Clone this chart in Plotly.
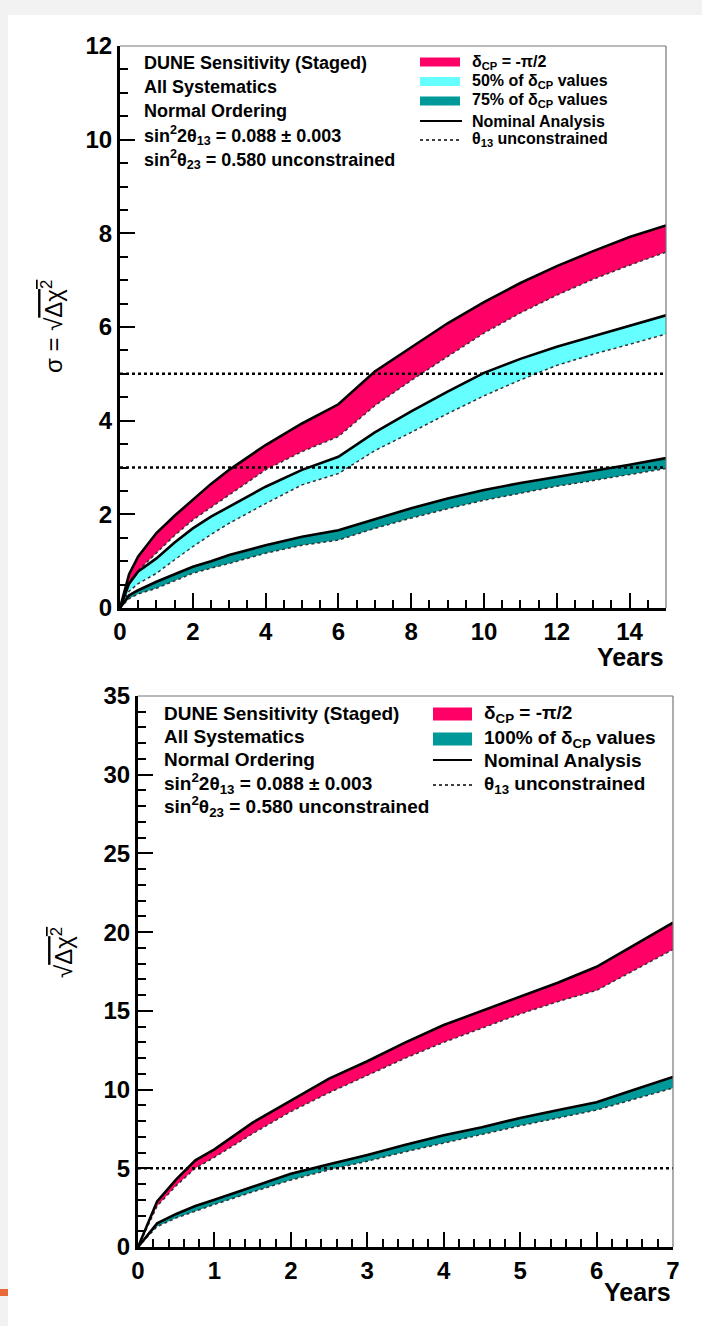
import plotly.graph_objects as go

W, H = 702, 1326

# ---------------- data: top panel (sigma vs years, 0-15) ----------------
top_years = [0, 0.25, 0.5, 1, 1.5, 2, 2.5, 3, 4, 5, 6, 7, 8, 9, 10, 11, 12, 13, 14, 15]
top_pink_nominal = [0, 0.72, 1.1, 1.6, 1.97, 2.3, 2.65, 2.95, 3.48, 3.94, 4.35, 5.05, 5.56, 6.08, 6.53, 6.94, 7.3, 7.62, 7.92, 8.17]
top_pink_th13 = [0, 0.55, 0.8, 1.17, 1.55, 1.88, 2.15, 2.41, 2.95, 3.34, 3.66, 4.32, 4.86, 5.37, 5.87, 6.3, 6.68, 7.02, 7.32, 7.6]
top_cyan_nominal = [0, 0.52, 0.78, 1.06, 1.4, 1.7, 1.95, 2.16, 2.59, 2.95, 3.23, 3.75, 4.2, 4.62, 5.02, 5.32, 5.58, 5.8, 6.03, 6.25]
top_cyan_th13 = [0, 0.36, 0.52, 0.74, 1.03, 1.31, 1.57, 1.81, 2.23, 2.63, 2.87, 3.36, 3.75, 4.15, 4.53, 4.87, 5.18, 5.42, 5.63, 5.85]
top_teal_nominal = [0, 0.27, 0.38, 0.56, 0.72, 0.88, 1.0, 1.13, 1.34, 1.52, 1.66, 1.9, 2.13, 2.34, 2.52, 2.67, 2.8, 2.92, 3.06, 3.2]
top_teal_th13 = [0, 0.2, 0.3, 0.42, 0.58, 0.74, 0.85, 0.95, 1.17, 1.34, 1.45, 1.7, 1.92, 2.12, 2.3, 2.45, 2.6, 2.72, 2.85, 2.98]
top_thresholds = [3, 5]
top_xticks = [0, 2, 4, 6, 8, 10, 12, 14]
top_yticks = [0, 2, 4, 6, 8, 10, 12]

# ---------------- data: bottom panel (sqrt dchi2 vs years, 0-7) ----------------
bot_years = [0, 0.25, 0.5, 0.75, 1, 1.5, 2, 2.5, 3, 3.5, 4, 4.5, 5, 5.5, 6, 6.5, 7]
bot_pink_nominal = [0, 2.9, 4.3, 5.5, 6.2, 7.9, 9.3, 10.7, 11.8, 13.0, 14.1, 15.0, 15.9, 16.8, 17.8, 19.2, 20.6]
bot_pink_th13 = [0, 2.6, 3.9, 5.0, 5.7, 7.2, 8.6, 9.8, 10.9, 12.0, 13.0, 13.9, 14.8, 15.6, 16.3, 17.6, 18.9]
bot_teal_nominal = [0, 1.5, 2.1, 2.6, 3.0, 3.85, 4.65, 5.25, 5.85, 6.5, 7.1, 7.6, 8.2, 8.7, 9.2, 10.0, 10.8]
bot_teal_th13 = [0, 1.3, 1.85, 2.3, 2.7, 3.5, 4.25, 4.9, 5.45, 6.05, 6.6, 7.15, 7.7, 8.2, 8.7, 9.4, 10.1]
bot_thresholds = [5]
bot_xticks = [0, 1, 2, 3, 4, 5, 6, 7]
bot_yticks = [0, 5, 10, 15, 20, 25, 30, 35]

PINK = "#ff0066"
CYAN = "#66ffff"
TEAL = "#009999"
FONT = "Liberation Sans, Arial, Helvetica, sans-serif"


def px(x):
    return x / W


def py(y):
    return 1 - y / H


fig = go.Figure()


def add_band(x, nominal, th13, color, xa, ya):
    fig.add_trace(go.Scatter(x=x, y=th13, mode="lines", line=dict(width=0, color=color),
                             xaxis=xa, yaxis=ya, showlegend=False, hoverinfo="skip"))
    fig.add_trace(go.Scatter(x=x, y=nominal, mode="lines", fill="tonexty", fillcolor=color,
                             line=dict(width=0, color=color),
                             xaxis=xa, yaxis=ya, showlegend=False, hoverinfo="skip"))


def add_edges(x, nominal, th13, xa, ya):
    fig.add_trace(go.Scatter(x=x, y=th13, mode="lines", line=dict(width=1.5, color="#333333", dash="dot"),
                             xaxis=xa, yaxis=ya, showlegend=False, hoverinfo="skip"))
    fig.add_trace(go.Scatter(x=x, y=nominal, mode="lines", line=dict(width=2.6, color="black"),
                             xaxis=xa, yaxis=ya, showlegend=False, hoverinfo="skip"))


add_band(top_years, top_pink_nominal, top_pink_th13, PINK, "x", "y")
add_band(top_years, top_cyan_nominal, top_cyan_th13, CYAN, "x", "y")
add_band(top_years, top_teal_nominal, top_teal_th13, TEAL, "x", "y")
add_edges(top_years, top_pink_nominal, top_pink_th13, "x", "y")
add_edges(top_years, top_cyan_nominal, top_cyan_th13, "x", "y")
add_edges(top_years, top_teal_nominal, top_teal_th13, "x", "y")

add_band(bot_years, bot_pink_nominal, bot_pink_th13, PINK, "x2", "y2")
add_band(bot_years, bot_teal_nominal, bot_teal_th13, TEAL, "x2", "y2")
add_edges(bot_years, bot_pink_nominal, bot_pink_th13, "x2", "y2")
add_edges(bot_years, bot_teal_nominal, bot_teal_th13, "x2", "y2")

tickfont = dict(family=FONT, size=24, color="black", weight="bold")


def axis(domain, rng, tickvals, minor_dtick, anchor):
    return dict(domain=domain, range=rng, anchor=anchor, tickvals=tickvals, automargin=False,
                ticks="inside", ticklen=15, tickwidth=2, tickcolor="black",
                minor=dict(dtick=minor_dtick, tick0=0, ticks="inside", ticklen=8, tickwidth=2, tickcolor="black"),
                showline=True, linecolor="black", linewidth=3,
                showgrid=False, zeroline=False, tickfont=tickfont, fixedrange=True)


layout = dict(
    width=W, height=H, margin=dict(l=0, r=0, t=0, b=0, pad=0), autosize=False,
    paper_bgcolor="#f2f2f2", plot_bgcolor="white", showlegend=False,
    xaxis=axis([px(120), px(666)], [0, 15], top_xticks, 0.5, "y"),
    yaxis=axis([py(608), py(46)], [0, 12], top_yticks, 0.5, "x"),
    xaxis2=axis([px(138), px(673)], [0, 7], bot_xticks, 0.2, "y2"),
    yaxis2=axis([py(1247), py(696)], [0, 35], bot_yticks, 1, "x2"),
)
fig.update_layout(**layout)

shapes = []
# page background (white sheet with light gray edges)
shapes.append(dict(type="rect", xref="paper", yref="paper", x0=px(8), x1=1.01, y0=-0.01, y1=py(15),
                   fillcolor="white", line=dict(width=0), layer="below"))
shapes.append(dict(type="rect", xref="paper", yref="paper", x0=0, x1=px(8), y0=py(1296), y1=py(1289),
                   fillcolor="#e8693a", line=dict(width=0), layer="below"))
# significance threshold lines
for t in top_thresholds:
    shapes.append(dict(type="line", xref="x domain", yref="y", x0=0, x1=1, y0=t, y1=t,
                       line=dict(color="black", width=2.5, dash="dot"), layer="above"))
for t in bot_thresholds:
    shapes.append(dict(type="line", xref="x2 domain", yref="y2", x0=0, x1=1, y0=t, y1=t,
                       line=dict(color="black", width=2.5, dash="dot"), layer="above"))
# thin frame on top and right
for xa, ya in (("x", "y"), ("x2", "y2")):
    shapes.append(dict(type="line", xref=f"{xa} domain", yref=f"{ya} domain", x0=0, x1=1, y0=1, y1=1,
                       line=dict(color="#777777", width=1.2)))
    shapes.append(dict(type="line", xref=f"{xa} domain", yref=f"{ya} domain", x0=1, x1=1, y0=0, y1=1,
                       line=dict(color="#777777", width=1.2)))

annotations = []


def text(x, y, s, size, anchor="left", bold=True, angle=0):
    annotations.append(dict(xref="paper", yref="paper", x=px(x), y=py(y), text=s, showarrow=False,
                            xanchor=anchor, yanchor="middle", textangle=angle,
                            font=dict(family=FONT, size=size, color="black",
                                      weight="bold" if bold else "normal")))


info_lines = [
    "DUNE Sensitivity (Staged)",
    "All Systematics",
    "Normal Ordering",
    "sin<sup>2</sup>2θ<sub>13</sub> = 0.088 ± 0.003",
    "sin<sup>2</sup>θ<sub>23</sub> = 0.580 unconstrained",
]
for i, s in enumerate(info_lines):
    text(142, 63 + i * 24.1, s, 18)
for i, s in enumerate(info_lines):
    text(162, 713 + i * 23.4, s, 19)

# top legend
top_leg = [("box", PINK, "δ<sub>CP</sub> = -π/2"),
           ("box", CYAN, "50% of δ<sub>CP</sub> values"),
           ("box", TEAL, "75% of δ<sub>CP</sub> values"),
           ("solid", None, "Nominal Analysis"),
           ("dot", None, "θ<sub>13</sub> unconstrained")]
top_rows = [62, 81.5, 101, 121, 140]
for (kind, col, lab), yy in zip(top_leg, top_rows):
    if kind == "box":
        shapes.append(dict(type="rect", xref="paper", yref="paper", x0=px(420), x1=px(460),
                           y0=py(yy + 4.5), y1=py(yy - 4.5), fillcolor=col, line=dict(width=0)))
    else:
        shapes.append(dict(type="line", xref="paper", yref="paper", x0=px(420), x1=px(462),
                           y0=py(yy), y1=py(yy),
                           line=dict(color="black", width=2 if kind == "solid" else 1.3,
                                     dash="solid" if kind == "solid" else "dot")))
    text(470, yy, lab, 16)

# bottom legend
bot_leg = [("box", PINK, "δ<sub>CP</sub> = -π/2"),
           ("box", TEAL, "100% of δ<sub>CP</sub> values"),
           ("solid", None, "Nominal Analysis"),
           ("dot", None, "θ<sub>13</sub> unconstrained")]
bot_rows = [714, 739, 760, 785]
for (kind, col, lab), yy in zip(bot_leg, bot_rows):
    if kind == "box":
        shapes.append(dict(type="rect", xref="paper", yref="paper", x0=px(433), x1=px(472),
                           y0=py(yy + 6.5), y1=py(yy - 6.5), fillcolor=col, line=dict(width=0)))
    else:
        shapes.append(dict(type="line", xref="paper", yref="paper", x0=px(433), x1=px(472),
                           y0=py(yy), y1=py(yy),
                           line=dict(color="black", width=2.2 if kind == "solid" else 1.4,
                                     dash="solid" if kind == "solid" else "dot")))
    text(482, yy, lab, 19)

# axis titles
text(666, 657, "Years", 25, anchor="right")
text(673, 1292, "Years", 25, anchor="right")
text(52, 327, "σ = √<span style=\"text-decoration:overline\">Δχ<sup>2</sup></span>", 24,
     anchor="center", bold=False, angle=-90)
text(62, 953, "√<span style=\"text-decoration:overline\">Δχ<sup>2</sup></span>", 24,
     anchor="center", bold=False, angle=-90)

fig.update_layout(shapes=shapes, annotations=annotations)
fig.write_html("out.html")
